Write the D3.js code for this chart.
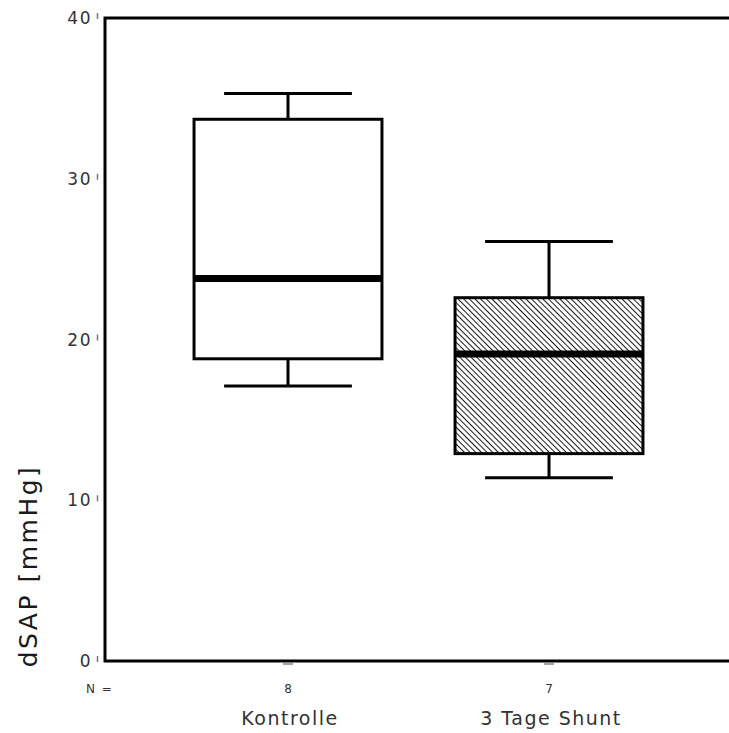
<!DOCTYPE html>
<html lang="de">
<head>
  <meta charset="UTF-8">
  <title>dSAP Boxplot</title>
  <script src="https://d3js.org/d3.v7.min.js"></script>
  <style>
    body { margin: 0; background: #fff; }
    text { font-family: "DejaVu Sans", sans-serif; fill: #333; }
  </style>
</head>
<body>
  <div id="chart"></div>
  <script>
    // Daten
    const groups = ["Kontrolle", "3 Tage Shunt"];
    const counts = [8, 7];
    const whiskerLow = [17.1, 11.4];
    const q1 = [18.8, 12.9];
    const median = [23.8, 19.1];
    const q3 = [33.7, 22.6];
    const whiskerHigh = [35.3, 26.1];
    const yTicks = [0, 10, 20, 30, 40];
    const hatched = [false, true];

    const width = 729, height = 733;
    const margin = { left: 105, top: 18, bottom: 72 };

    const svg = d3.select("#chart").append("svg")
      .attr("width", width).attr("height", height);

    // Schraffur
    const defs = svg.append("defs");
    const pat = defs.append("pattern")
      .attr("id", "hatch")
      .attr("patternUnits", "userSpaceOnUse")
      .attr("width", 4).attr("height", 4)
      .attr("patternTransform", "rotate(-45)");
    pat.append("rect").attr("width", 4).attr("height", 4).attr("fill", "#fff");
    pat.append("line").attr("x1", 0).attr("y1", 0).attr("x2", 0).attr("y2", 4)
      .attr("stroke", "#000").attr("stroke-width", 1.8);

    const y = d3.scaleLinear().domain([0, 40]).range([height - margin.bottom, margin.top]);
    const x = d3.scaleBand().domain(groups).range([157.5, 679.5])
      .paddingInner(0.28).paddingOuter(0.14);
    const cx = g => x(g) + x.bandwidth() / 2;

    // Rahmen
    const y0 = y(0), yTop = y(40);
    svg.append("path")
      .attr("d", `M${width + 5},${yTop} L${margin.left},${yTop} L${margin.left},${y0} L${width + 5},${y0}`)
      .attr("fill", "none").attr("stroke", "#000").attr("stroke-width", 3);

    // Y-Achse
    const yt = svg.append("g");
    yTicks.forEach(t => {
      yt.append("text")
        .attr("x", 92).attr("y", y(t) + 6)
        .attr("text-anchor", "end")
        .attr("font-size", 17)
        .attr("letter-spacing", 1.5)
        .text(t);
      yt.append("line")
        .attr("x1", 97.5).attr("x2", 97.5)
        .attr("y1", y(t) - 5).attr("y2", y(t) + 1)
        .attr("stroke", "#777").attr("stroke-width", 1.5);
    });

    svg.append("text")
      .attr("transform", "translate(37,566) rotate(-90)")
      .attr("text-anchor", "middle")
      .attr("font-family", "'Liberation Sans', Arial, sans-serif")
      .attr("font-size", 25)
      .attr("letter-spacing", 2.5)
      .style("fill", "#1a1a1a")
      .text("dSAP [mmHg]");

    // Boxen
    groups.forEach((g, i) => {
      const bx = x(g), bw = x.bandwidth(), c = cx(g);
      const capW = bw * 0.68;
      const gg = svg.append("g").attr("stroke", "#000").attr("stroke-width", 3);
      gg.append("line").attr("x1", c).attr("x2", c).attr("y1", y(whiskerHigh[i])).attr("y2", y(q3[i]));
      gg.append("line").attr("x1", c).attr("x2", c).attr("y1", y(q1[i])).attr("y2", y(whiskerLow[i]));
      gg.append("line").attr("x1", c - capW / 2).attr("x2", c + capW / 2)
        .attr("y1", y(whiskerHigh[i])).attr("y2", y(whiskerHigh[i]));
      gg.append("line").attr("x1", c - capW / 2).attr("x2", c + capW / 2)
        .attr("y1", y(whiskerLow[i])).attr("y2", y(whiskerLow[i]));
      gg.append("rect")
        .attr("x", bx).attr("y", y(q3[i]))
        .attr("width", bw).attr("height", y(q1[i]) - y(q3[i]))
        .attr("fill", hatched[i] ? "url(#hatch)" : "#fff");
      gg.append("line").attr("x1", bx).attr("x2", bx + bw)
        .attr("y1", y(median[i])).attr("y2", y(median[i]))
        .attr("stroke-width", 7);

      // X-Ticks und Beschriftung
      svg.append("line")
        .attr("x1", c - 5).attr("x2", c + 5)
        .attr("y1", y0 + 3).attr("y2", y0 + 3)
        .attr("stroke", "#888").attr("stroke-width", 1.5);
      svg.append("text")
        .attr("x", c).attr("y", y0 + 32)
        .attr("text-anchor", "middle").attr("font-size", 12)
        .text(counts[i]);
      svg.append("text")
        .attr("x", c + 2).attr("y", y0 + 64)
        .attr("text-anchor", "middle").attr("font-size", 19)
        .attr("letter-spacing", 1.5)
        .text(g);
    });

    svg.append("text")
      .attr("x", 86).attr("y", y0 + 32)
      .attr("font-size", 12).attr("letter-spacing", 1.5)
      .text("N =");
  </script>
</body>
</html>
